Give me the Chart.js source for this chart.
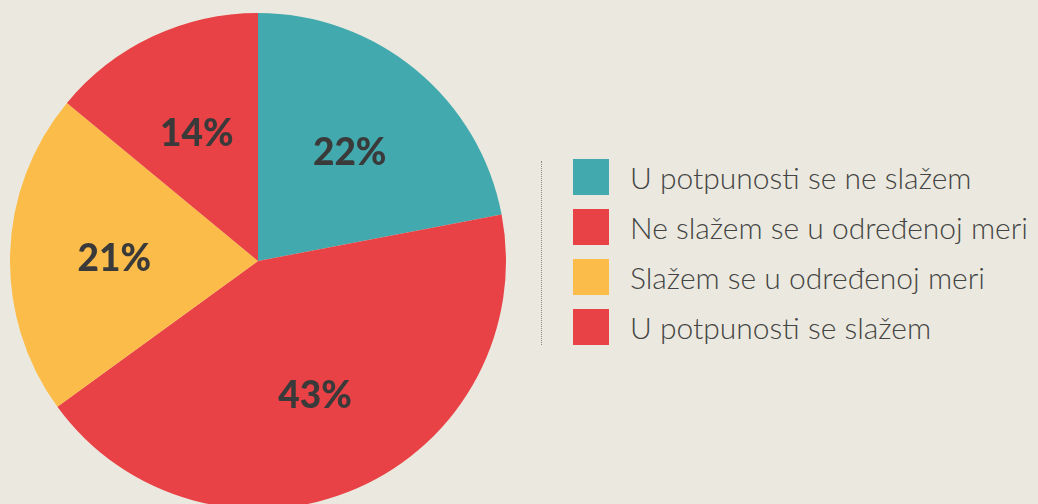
<!DOCTYPE html>
<html>
<head>
<meta charset="utf-8">
<script src="https://cdn.jsdelivr.net/npm/chart.js@4"></script>
<style>
  html, body { margin: 0; padding: 0; }
  body {
    width: 1038px; height: 504px; overflow: hidden;
    background: #ebe9df; position: relative;
    font-family: Lato, "Open Sans", sans-serif;
  }
  #pieBox { position: absolute; left: 10px; top: 13px; width: 496px; height: 496px; }
  #rule {
    position: absolute; left: 541px; top: 161px; height: 184px;
    border-left: 1px dotted #8a8a85;
  }
  #legend { position: absolute; left: 573px; top: 152px; }
  .item { display: flex; align-items: center; height: 50px; }
  .swatch { width: 36px; height: 36px; margin-right: 21px; flex: none; }
  .label { font-size: 30px; font-weight: 300; color: #444; white-space: nowrap; }
</style>
</head>
<body>
<div id="pieBox"><canvas id="statusChart"></canvas></div>
<div id="rule"></div>
<div id="legend"></div>
<script>
const labels = [
  "U potpunosti se ne slažem",
  "Ne slažem se u određenoj meri",
  "Slažem se u određenoj meri",
  "U potpunosti se slažem",
];
const values = [22, 43, 21, 14];
const colors = ["#42a9ae", "#e84246", "#fcbc49", "#e84246"];

// percentage text inside each slice
const pctLabels = {
  id: "pctLabels",
  afterDatasetsDraw(chart) {
    const ctx = chart.ctx;
    const meta = chart.getDatasetMeta(0);
    ctx.save();
    ctx.fillStyle = "#3a3a3a";
    ctx.font = "900 37px Lato, sans-serif";
    ctx.textAlign = "center";
    ctx.textBaseline = "middle";
    meta.data.forEach((arc, i) => {
      const mid = (arc.startAngle + arc.endAngle) / 2;
      const r = arc.outerRadius * 0.58;
      ctx.fillText(values[i] + "%", arc.x + Math.cos(mid) * r, arc.y + Math.sin(mid) * r + 3);
    });
    ctx.restore();
  },
};

const ctx = document.getElementById("statusChart").getContext("2d");
const statusChart = new Chart(ctx, {
  type: "pie",
  data: {
    labels: labels,
    datasets: [
      {
        data: values,
        backgroundColor: colors,
        borderWidth: 0,
      },
    ],
  },
  options: {
    responsive: true,
    maintainAspectRatio: false,
    animation: false,
    layout: { padding: 0 },
    plugins: {
      legend: { display: false },
      tooltip: { enabled: false },
    },
  },
  plugins: [pctLabels],
});

// html legend on the right
const legend = document.getElementById("legend");
labels.forEach((text, i) => {
  const row = document.createElement("div");
  row.className = "item";
  row.innerHTML = '<div class="swatch" style="background:' + colors[i] + '"></div><div class="label">' + text + "</div>";
  legend.appendChild(row);
});
</script>
</body>
</html>
